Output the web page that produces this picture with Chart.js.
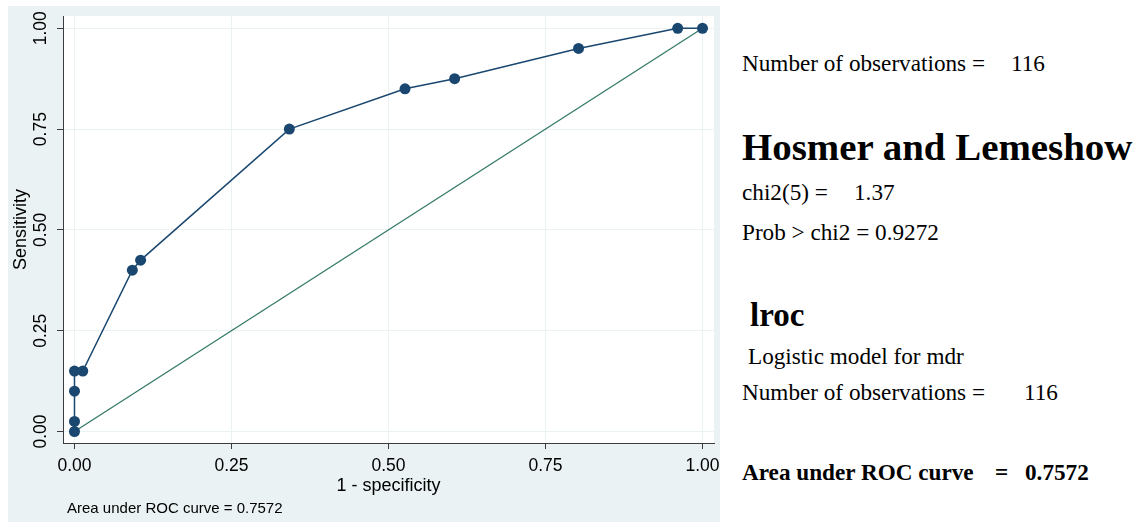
<!DOCTYPE html>
<html>
<head>
<meta charset="utf-8">
<script src="https://cdn.jsdelivr.net/npm/chart.js@4.4.1/dist/chart.umd.min.js"></script>
<style>
  html, body { margin: 0; padding: 0; background: #ffffff; }
  body { width: 1141px; height: 522px; position: relative; overflow: hidden; }
  #panel { position: absolute; left: 8px; top: 6px; width: 712px; height: 516px; background: #EAF2F3; }
  #panel canvas { display: block; }
  .stat { position: absolute; font-family: "Liberation Serif", "Times New Roman", serif; font-size: 23.2px; line-height: 1; color: #000; white-space: pre; }
  .bold { font-weight: bold; }
</style>
</head>
<body>
<div id="panel"><canvas id="roc" width="712" height="516"></canvas></div>

<div class="stat" style="left:742px; top:51.5px;">Number of observations =</div>
<div class="stat" style="left:1011px; top:51.5px;">116</div>

<div class="stat bold" style="left:742px; top:127.5px; font-size:38.9px;">Hosmer and Lemeshow</div>
<div class="stat" style="left:742px; top:180.5px;">chi2(5) =</div>
<div class="stat" style="left:854px; top:180.5px;">1.37</div>
<div class="stat" style="left:742px; top:220.5px;">Prob &gt; chi2 = 0.9272</div>

<div class="stat bold" style="left:750px; top:298.5px; font-size:33px;">lroc</div>
<div class="stat" style="left:748px; top:345px;">Logistic model for mdr</div>
<div class="stat" style="left:742px; top:381px;">Number of observations =</div>
<div class="stat" style="left:1024px; top:381px;">116</div>

<div class="stat bold" style="left:742px; top:460.5px;">Area under ROC curve</div>
<div class="stat bold" style="left:995px; top:460.5px;">=</div>
<div class="stat bold" style="left:1025px; top:460.5px;">0.7572</div>

<script>
// ROC curve from the logistic model: 1 - specificity vs sensitivity
const oneMinusSpecificity = [0, 0, 0, 0, 0.0132, 0.0921, 0.1053, 0.3421, 0.5263, 0.6053, 0.8026, 0.9605, 1];
const sensitivity        = [0, 0.025, 0.1, 0.15, 0.15, 0.4, 0.425, 0.75, 0.85, 0.875, 0.95, 1, 1];

// 45-degree reference line
const referenceX = [0, 1];
const referenceY = [0, 1];

// axis ticks and labels
const tickValues = [0, 0.25, 0.5, 0.75, 1];
const tickLabels = ['0.00', '0.25', '0.50', '0.75', '1.00'];

const xTitle = '1 - specificity';
const yTitle = 'Sensitivity';
const footNote = 'Area under ROC curve = 0.7572';

const sansFont = '"Liberation Sans", Arial, Helvetica, sans-serif';
const navy = '#1A476F';
const green = '#347A68';
const axisColor = '#3c3c3c';
const gridColor = '#EAF2F3';

const toPoints = (xs, ys) => xs.map((x, i) => ({ x: x, y: ys[i] }));

// white plot region, rotated y tick labels and the footnote
const decorations = {
  id: 'decorations',
  beforeDraw(chart) {
    const { ctx, chartArea } = chart;
    ctx.save();
    ctx.fillStyle = '#ffffff';
    ctx.fillRect(chartArea.left, chartArea.top, chartArea.right - chartArea.left, chartArea.bottom - chartArea.top);
    ctx.restore();
  },
  afterDraw(chart) {
    const { ctx } = chart;
    const yScale = chart.scales.y;
    ctx.save();
    ctx.fillStyle = '#000';
    ctx.font = '17.5px ' + sansFont;
    ctx.textAlign = 'center';
    ctx.textBaseline = 'middle';
    tickValues.forEach((v, i) => {
      ctx.save();
      ctx.translate(33.3, yScale.getPixelForValue(v));
      ctx.rotate(-Math.PI / 2);
      ctx.fillText(tickLabels[i], 0, 0);
      ctx.restore();
    });
    ctx.font = '15px ' + sansFont;
    ctx.textAlign = 'left';
    ctx.textBaseline = 'alphabetic';
    ctx.fillText(footNote, 59, 507);
    ctx.restore();
  }
};

const setTicks = (scale) => {
  scale.ticks = tickValues.map(v => ({ value: v }));
};

new Chart(document.getElementById('roc'), {
  type: 'scatter',
  data: {
    datasets: [
      {
        label: 'Reference',
        data: toPoints(referenceX, referenceY),
        showLine: true,
        borderColor: green,
        borderWidth: 1.3,
        pointRadius: 0,
        order: 2
      },
      {
        label: 'ROC',
        data: toPoints(oneMinusSpecificity, sensitivity),
        showLine: true,
        borderColor: navy,
        borderWidth: 1.5,
        pointRadius: 5.5,
        pointBorderWidth: 0,
        pointBackgroundColor: navy,
        pointBorderColor: navy,
        order: 1
      }
    ]
  },
  options: {
    responsive: false,
    animation: false,
    layout: { padding: { left: 0, top: 10, right: 6, bottom: 0 } },
    plugins: {
      legend: { display: false },
      tooltip: { enabled: false }
    },
    scales: {
      x: {
        type: 'linear',
        min: -0.0183,
        max: 1.0183,
        afterBuildTicks: setTicks,
        afterFit: (scale) => { scale.height = 79; scale.paddingLeft = 0; scale.paddingRight = 0; },
        grid: { color: gridColor, lineWidth: 1, drawTicks: true, tickLength: 6, tickColor: axisColor, tickWidth: 1 },
        border: { display: true, color: axisColor, width: 1 },
        ticks: {
          color: '#000',
          font: { family: sansFont, size: 17.5 },
          padding: 6.5,
          maxRotation: 0,
          callback: (v) => tickLabels[tickValues.indexOf(v)]
        },
        title: {
          display: true,
          text: xTitle,
          color: '#000',
          font: { family: sansFont, size: 18 },
          padding: { top: 0, bottom: 25 }
        }
      },
      y: {
        type: 'linear',
        min: -0.0285,
        max: 1.0305,
        afterBuildTicks: setTicks,
        afterFit: (scale) => { scale.width = 55; scale.paddingTop = 0; scale.paddingBottom = 0; },
        grid: { color: gridColor, lineWidth: 1, drawTicks: true, tickLength: 6, tickColor: axisColor, tickWidth: 1 },
        border: { display: true, color: axisColor, width: 1 },
        ticks: { display: false },
        title: {
          display: true,
          text: yTitle,
          color: '#000',
          font: { family: sansFont, size: 18 },
          padding: { top: 2.2, bottom: 0 }
        }
      }
    }
  },
  plugins: [decorations]
});
</script>
</body>
</html>
